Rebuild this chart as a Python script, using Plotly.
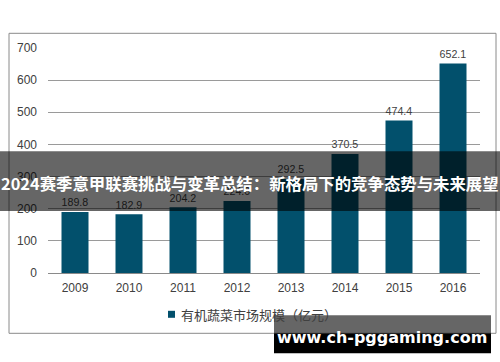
import plotly.graph_objects as go

years = ["2009", "2010", "2011", "2012", "2013", "2014", "2015", "2016"]
market_size = [189.8, 182.9, 204.2, 224.0, 292.5, 370.5, 474.4, 652.1]
series_name = "有机蔬菜市场规模（亿元）"
y_ticks = [0, 100, 200, 300, 400, 500, 600, 700]
banner_text = "2024赛季意甲联赛挑战与变革总结：新格局下的竞争态势与未来展望"
watermark_text = "www.ch-pggaming.com"

W, H = 500, 362
L, R, T, B = 48, 20, 47.7, 89.3
PW, PH = W - L - R, H - T - B


def px(x):
    return (x - L) / PW


def py(y):
    return (H - B - y) / PH


FONT = "Liberation Sans, Arial, Noto Sans CJK SC, sans-serif"
CJK = "Noto Sans CJK SC, Microsoft YaHei, sans-serif"
BAR = "#02506C"

fig = go.Figure()
fig.add_trace(go.Bar(
    x=years, y=market_size, name=series_name,
    marker=dict(color=BAR, line=dict(width=0)),
    text=[f"{v:.1f}" for v in market_size],
    textposition="outside", cliponaxis=False,
    textfont=dict(family=FONT, size=12, color="#404040"),
    showlegend=False, hoverinfo="skip",
))

shapes = [
    dict(type="rect", xref="paper", yref="paper", x0=px(9), x1=px(496), y0=py(333), y1=py(33),
         line=dict(color="#8a8a8a", width=1), fillcolor="rgba(0,0,0,0)", layer="below"),
    dict(type="rect", xref="paper", yref="paper", x0=px(168), x1=px(175), y0=py(317.5), y1=py(310.5),
         line=dict(width=0), fillcolor=BAR, layer="above"),
    dict(type="rect", xref="paper", yref="paper", x0=px(0), x1=px(500), y0=py(210.7), y1=py(151),
         line=dict(width=0), fillcolor="rgba(0,0,0,0.6)", layer="above"),
    dict(type="rect", xref="paper", yref="paper", x0=px(274), x1=px(491), y0=py(333), y1=py(315),
         line=dict(width=0), fillcolor="rgba(0,0,0,0.6)", layer="above"),
    dict(type="rect", xref="paper", yref="paper", x0=px(274), x1=px(491), y0=py(353), y1=py(333),
         line=dict(width=0), fillcolor="#000000", layer="above"),
]

annotations = [
    dict(xref="paper", yref="paper", x=px(179), y=py(314), xanchor="left", yanchor="middle",
         text=series_name, showarrow=False, font=dict(family=CJK, size=13, color="#404040")),
    dict(xref="paper", yref="paper", x=px(250), y=py(183), xanchor="center", yanchor="middle",
         text="<b>" + banner_text + "</b>", showarrow=False,
         font=dict(family=CJK, size=16.4, color="#ffffff")),
    dict(xref="paper", yref="paper", x=px(382), y=py(337), xanchor="center", yanchor="middle",
         text="<b>" + watermark_text + "</b>", showarrow=False,
         font=dict(family="DejaVu Sans, Verdana, sans-serif", size=16, color="#ffffff")),
]

fig.update_layout(
    width=W, height=H,
    margin=dict(l=L, r=R, t=T, b=B, pad=0, autoexpand=False),
    paper_bgcolor="#ffffff", plot_bgcolor="#ffffff",
    bargap=0.5,
    shapes=shapes, annotations=annotations,
    font=dict(family=FONT, size=12, color="#404040"),
    xaxis=dict(showgrid=False, showline=True, linecolor="#8a8a8a", linewidth=1,
               ticks="", tickfont=dict(family=FONT, size=12, color="#404040"),
               ticklabelstandoff=4, automargin=False),
    yaxis=dict(range=[0, 700], tickvals=y_ticks, showgrid=True, gridcolor="#9a9a9a",
               gridwidth=1, zeroline=False, showline=False, ticks="",
               tickfont=dict(family=FONT, size=12, color="#404040"),
               ticklabelstandoff=10, automargin=False),
    showlegend=False,
)

fig.write_html(
    "out.html",
    config={"displayModeBar": False},
    post_script="document.body.style.margin='0';document.body.style.overflow='hidden';",
)
